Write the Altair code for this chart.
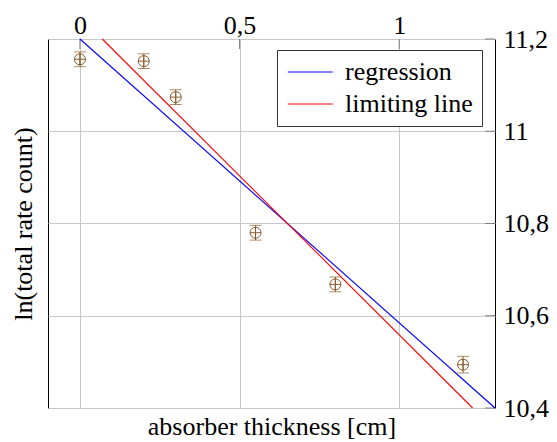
import altair as alt
import pandas as pd

thickness = [0.0, 0.2, 0.3, 0.55, 0.8, 1.2]
ln_rate = [11.156, 11.152, 11.074, 10.780, 10.668, 10.494]
ln_err = [0.016, 0.016, 0.016, 0.016, 0.016, 0.018]

# fitted lines (visible end points)
line_names = ["regression", "regression", "limiting line", "limiting line"]
line_x = [0.0, 1.3, 0.07, 1.23]
line_y = [11.2, 10.4, 11.2, 10.4]

x_ticks = [0, 0.5, 1]
y_ticks = [10.4, 10.6, 10.8, 11.0, 11.2]

FONT = "Liberation Serif"
FS = 26
BROWN = "#8B5A2B"
GRID = "#c8c8c8"
TICK = "#808080"
W, H = 447, 369

xs = alt.Scale(domain=[-0.1, 1.3], nice=False, zero=False)
ys = alt.Scale(domain=[10.4, 11.2], nice=False, zero=False)

pts = pd.DataFrame({
    "x": thickness,
    "y": ln_rate,
    "lo": [v - e for v, e in zip(ln_rate, ln_err)],
    "hi": [v + e for v, e in zip(ln_rate, ln_err)],
})
lines = pd.DataFrame({"name": line_names, "x": line_x, "y": line_y})
xt = pd.DataFrame({"v": x_ticks})
yt = pd.DataFrame({"v": y_ticks})

comma = "replace(format(datum.value, '~g'), '.', ',')"

ax_top = alt.Axis(orient="top", values=x_ticks, labelExpr=comma, title=None,
                  ticks=False, domain=False, grid=True, gridColor=GRID,
                  labelFont=FONT, labelFontSize=FS, labelColor="black",
                  labelPadding=1, labelFlush=False)
ay_right = alt.Axis(orient="right", values=y_ticks, labelExpr=comma, title=None,
                    ticks=False, domain=False, grid=True, gridColor=GRID,
                    labelFont=FONT, labelFontSize=FS, labelColor="black",
                    labelPadding=8, labelFlush=False)
ax_bottom = alt.Axis(orient="bottom", title="absorber thickness [cm]", labels=False,
                     ticks=False, domain=False, grid=False, titleFont=FONT,
                     titleFontSize=FS, titleFontWeight="normal", titleColor="black",
                     titlePadding=5)
ay_left = alt.Axis(orient="left", title="ln(total rate count)", labels=False,
                   ticks=False, domain=False, grid=False, titleFont=FONT,
                   titleFontSize=FS, titleFontWeight="normal", titleColor="black",
                   titlePadding=12)

grid_layer = alt.Chart(pts).mark_point(opacity=0).encode(
    x=alt.X("x:Q", scale=xs, axis=ax_top),
    y=alt.Y("y:Q", scale=ys, axis=ay_right),
)

title_layer = alt.Chart(pts).mark_point(opacity=0).encode(
    x=alt.X("x:Q", scale=xs, axis=ax_bottom),
    y=alt.Y("y:Q", scale=ys, axis=ay_left),
)

top_ticks = alt.Chart(xt).mark_rule(color=TICK, strokeWidth=1).encode(
    x=alt.X("v:Q", scale=xs, axis=None),
    y=alt.value(0), y2=alt.value(10),
)
right_ticks = alt.Chart(yt).mark_rule(color=TICK, strokeWidth=1).encode(
    y=alt.Y("v:Q", scale=ys, axis=None),
    x=alt.value(W - 10), x2=alt.value(W),
)

line_layer = alt.Chart(lines).mark_line(strokeWidth=1.1).encode(
    x=alt.X("x:Q", scale=xs, axis=None),
    y=alt.Y("y:Q", scale=ys, axis=None),
    color=alt.Color("name:N",
                    scale=alt.Scale(domain=["regression", "limiting line"],
                                    range=["#0000ff", "#ff0000"]),
                    legend=alt.Legend(orient="none", legendX=229, legendY=11,
                                      title=None, symbolType="M-1,0L3,0",
                                      symbolSize=506, symbolStrokeWidth=1,
                                      labelFont=FONT, labelFontSize=FS,
                                      labelColor="black", labelOffset=33,
                                      rowPadding=6, padding=9,
                                      fillColor="white", strokeColor="#333333",
                                      labelLimit=300)),
)

err_layer = alt.Chart(pts).mark_rule(color=BROWN, strokeWidth=1).encode(
    x=alt.X("x:Q", scale=xs, axis=None),
    y=alt.Y("lo:Q", scale=ys, axis=None),
    y2="hi:Q",
)
cap_lo = alt.Chart(pts).mark_tick(color=BROWN, orient="horizontal", size=12,
                                  thickness=1).encode(
    x=alt.X("x:Q", scale=xs, axis=None),
    y=alt.Y("lo:Q", scale=ys, axis=None),
)
cap_hi = alt.Chart(pts).mark_tick(color=BROWN, orient="horizontal", size=12,
                                  thickness=1).encode(
    x=alt.X("x:Q", scale=xs, axis=None),
    y=alt.Y("hi:Q", scale=ys, axis=None),
)
marker = "M-1,0A1,1,0,1,1,1,0A1,1,0,1,1,-1,0ZM-1,0L1,0M0,-1L0,1"
pt_layer = alt.Chart(pts).mark_point(shape=marker, filled=False, color=BROWN,
                                     strokeWidth=1, size=121, opacity=1).encode(
    x=alt.X("x:Q", scale=xs, axis=None),
    y=alt.Y("y:Q", scale=ys, axis=None),
)

chart = alt.layer(
    grid_layer, title_layer, top_ticks, right_ticks, line_layer,
    err_layer, cap_lo, cap_hi, pt_layer,
).resolve_axis(x="independent", y="independent").properties(
    width=W, height=H,
    autosize=alt.AutoSizeParams(type="none"),
    padding={"left": 40, "top": 31, "right": 54, "bottom": 32},
    background="white",
).configure(font=FONT).configure_view(stroke="black", strokeWidth=1)

chart.save("out.html", embed_options={"renderer": "svg", "actions": False})
